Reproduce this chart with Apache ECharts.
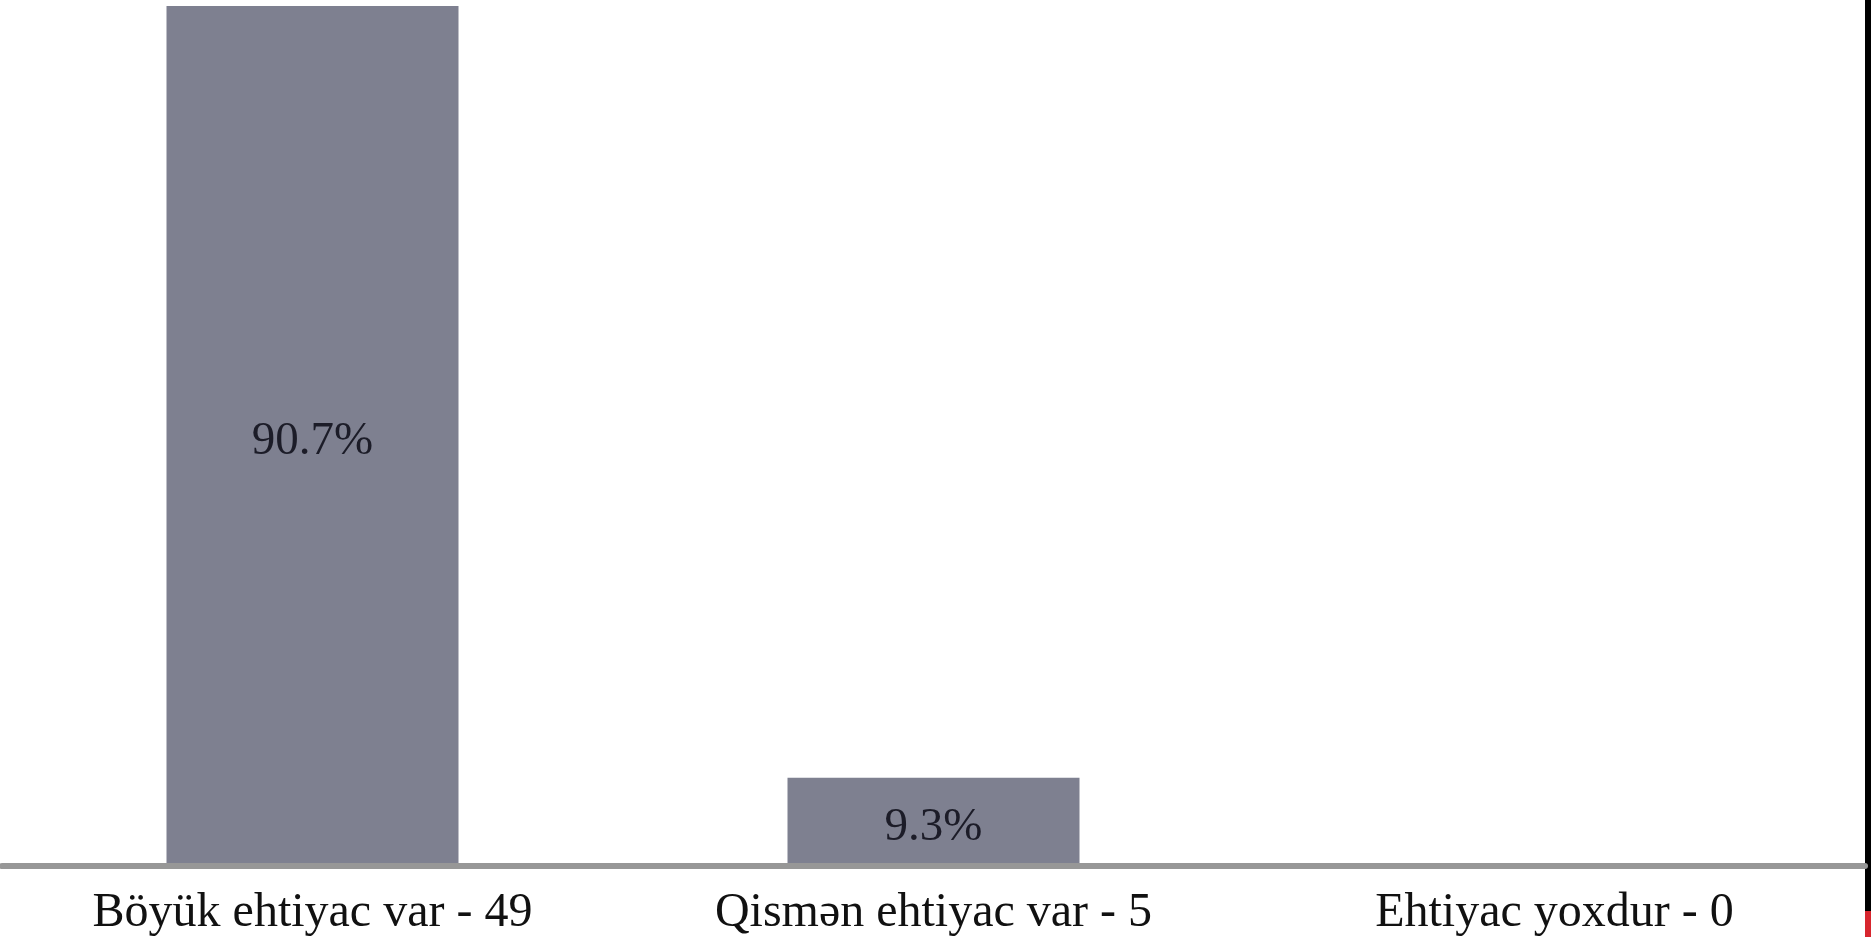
<!DOCTYPE html>
<html>
<head>
<meta charset="utf-8">
<script src="https://cdn.jsdelivr.net/npm/echarts@6/dist/echarts.min.js"></script>
<style>
html,body{margin:0;padding:0;background:#fff;}
#chart{width:1871px;height:937px;}
</style>
</head>
<body>
<div id="chart"></div>
<script>
const categories = ['Böyük ehtiyac var - 49', 'Qismən ehtiyac var - 5', 'Ehtiyac yoxdur - 0'];
const percentages = [90.7, 9.3, 0];

const chart = echarts.init(document.getElementById('chart'), null, {renderer: 'canvas'});
chart.setOption({
  animation: false,
  backgroundColor: '#ffffff',
  grid: {left: 2, right: 6, top: 6, bottom: 69, containLabel: false},
  xAxis: {
    type: 'category',
    data: categories,
    z: 10,
    axisLine: {show: true, lineStyle: {color: '#979797', width: 6}},
    axisTick: {show: false},
    axisLabel: {
      margin: 23,
      fontFamily: 'Liberation Serif',
      fontSize: 48,
      color: '#111111',
      interval: 0
    },
    splitLine: {show: false}
  },
  yAxis: {
    type: 'value',
    min: 0,
    max: 90.7,
    show: false,
    splitLine: {show: false}
  },
  series: [{
    type: 'bar',
    data: percentages,
    barWidth: 292,
    itemStyle: {color: '#7e8090'},
    label: {
      show: true,
      position: 'inside',
      offset: [0, 6],
      fontFamily: 'Liberation Serif',
      fontSize: 47,
      color: '#1c1c28',
      formatter: p => p.value > 0 ? p.value.toFixed(1) + '%' : ''
    }
  }],
  graphic: [
    {type: 'rect', right: 0, top: 0, shape: {width: 6, height: 937}, style: {fill: '#000000'}},
    {type: 'rect', right: 0, bottom: 0, shape: {width: 6, height: 26}, style: {fill: '#d7262e'}}
  ]
});
</script>
</body>
</html>
